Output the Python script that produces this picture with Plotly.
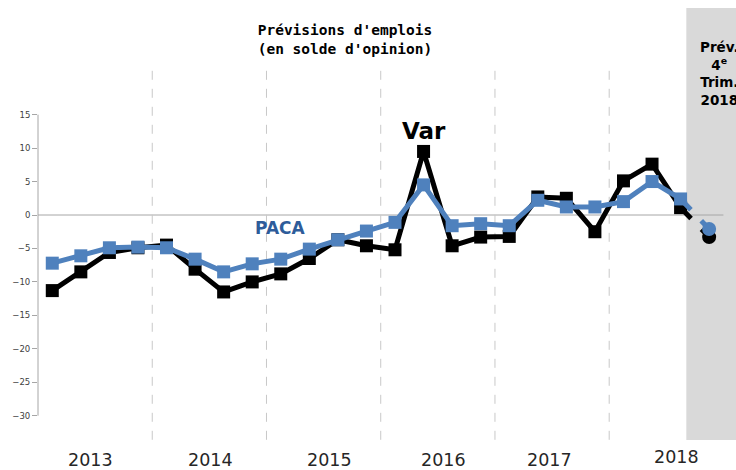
import plotly.graph_objects as go

# Quarterly job-forecast balance of opinion, 2013 Q1 -> 2018 Q4 (last = forecast)
years = ["2013", "2014", "2015", "2016", "2017", "2018"]
var_vals = [-11.3, -8.5, -5.6, -4.9, -4.5, -8.1, -11.5, -10.0,
            -8.8, -6.5, -3.7, -4.6, -5.2, 9.5, -4.6, -3.3,
            -3.2, 2.7, 2.5, -2.5, 5.1, 7.6, 1.1, -3.3]
paca_vals = [-7.2, -6.1, -4.9, -4.8, -4.9, -6.6, -8.5, -7.3,
             -6.6, -5.1, -3.7, -2.4, -1.1, 4.5, -1.6, -1.3,
             -1.6, 2.2, 1.2, 1.2, 2.0, 5.0, 2.4, -2.1]
y_ticks = [15, 10, 5, 0, -5, -10, -15, -20, -25, -30]

# where the year captions sit (in quarter-index units), slightly uneven as in the original
year_label_x = [1.33, 5.53, 9.69, 13.69, 17.4, 21.85]

BLACK = "#000000"
BLUE = "#4F81BD"
n = len(var_vals)
idx = list(range(n))
last = n - 1
W, H = 736, 470

fig = go.Figure()

# forecast shading (behind everything)
fig.add_shape(type="rect", xref="x", yref="paper", x0=last - 0.8, x1=last + 2,
              y0=0, y1=1, fillcolor="#D9D9D9", line_width=0, layer="below")
# zero line
fig.add_shape(type="line", xref="x", yref="y", x0=-0.5, x1=last + 0.5, y0=0, y1=0,
              line=dict(color="#A6A6A6", width=1), layer="below")
# year separators
for k in range(1, len(years)):
    fig.add_shape(type="line", xref="x", yref="y", x0=4 * k - 0.5, x1=4 * k - 0.5,
                  y0=-33.6, y1=22.9, line=dict(color="#C8C8C8", width=1, dash="dash"),
                  layer="below")
# y axis line
fig.add_shape(type="line", xref="paper", yref="y", x0=0, x1=0, y0=-30, y1=15,
              line=dict(color="#A6A6A6", width=1), layer="below")

for vals, col in [(var_vals, BLACK), (paca_vals, BLUE)]:
    fig.add_trace(go.Scatter(
        x=idx[last - 1:], y=vals[last - 1:], mode="lines",
        line=dict(color=col, width=5, dash="dash"), hoverinfo="skip", showlegend=False))
    fig.add_trace(go.Scatter(
        x=idx[last:], y=vals[last:], mode="markers",
        marker=dict(symbol="circle", size=14, color=col), showlegend=False))
    fig.add_trace(go.Scatter(
        x=idx[:last], y=vals[:last], mode="lines+markers",
        line=dict(color=col, width=5),
        marker=dict(symbol="square", size=13, color=col), showlegend=False))

fig.add_annotation(x=13, y=12.6, xref="x", yref="y", text="<b>Var</b>", showarrow=False,
                   font=dict(family="DejaVu Sans", size=23, color="#000000"))
fig.add_annotation(x=8, y=-2, xref="x", yref="y", text="<b>PACA</b>", showarrow=False,
                   font=dict(family="DejaVu Sans", size=17, color="#2E5C9A"))
# forecast caption, runs off the right edge like the original
fig.add_annotation(x=last + 0.36, y=1 - 65 / 432, xref="x", yref="paper",
                   text="<b>Prév.<br>4<sup>e</sup><br>Trim.<br>2018</b>", showarrow=False,
                   align="center", yanchor="middle",
                   font=dict(family="DejaVu Sans", size=13.5, color="#000000"))

# year captions under the plot
for yr, xp in zip(years, year_label_x):
    fig.add_annotation(x=xp, y=-20 / 432 if yr != "2018" else -17 / 432,
                       xref="x", yref="paper", text=yr, showarrow=False,
                       yanchor="middle",
                       font=dict(family="DejaVu Sans", size=17.5, color="#262626"))

fig.update_layout(
    width=W, height=H,
    margin=dict(l=38, r=0, t=8, b=30),
    paper_bgcolor="white", plot_bgcolor="rgba(0,0,0,0)",
    title=dict(text="<b>Prévisions d'emplois<br>(en solde d'opinion)</b>",
               x=345 / W, xanchor="center", y=1 - 35 / H, yanchor="middle",
               font=dict(family="DejaVu Sans Mono", size=14.5, color="#000000")),
    xaxis=dict(range=[-0.5, 23.94], showgrid=False, zeroline=False, showline=False,
               showticklabels=False, ticks=""),
    yaxis=dict(range=[-33.63, 30.94], showgrid=False, zeroline=False, showline=False,
               tickvals=y_ticks, ticks="outside", ticklen=5, tickcolor="#A6A6A6",
               tickfont=dict(family="DejaVu Sans", size=8.5, color="#404040")),
)

# drop the default 8px body margin so the figure fills the window exactly
fig.write_html("out.html", config={"displayModeBar": False},
               post_script="document.body.style.margin = '0';")
